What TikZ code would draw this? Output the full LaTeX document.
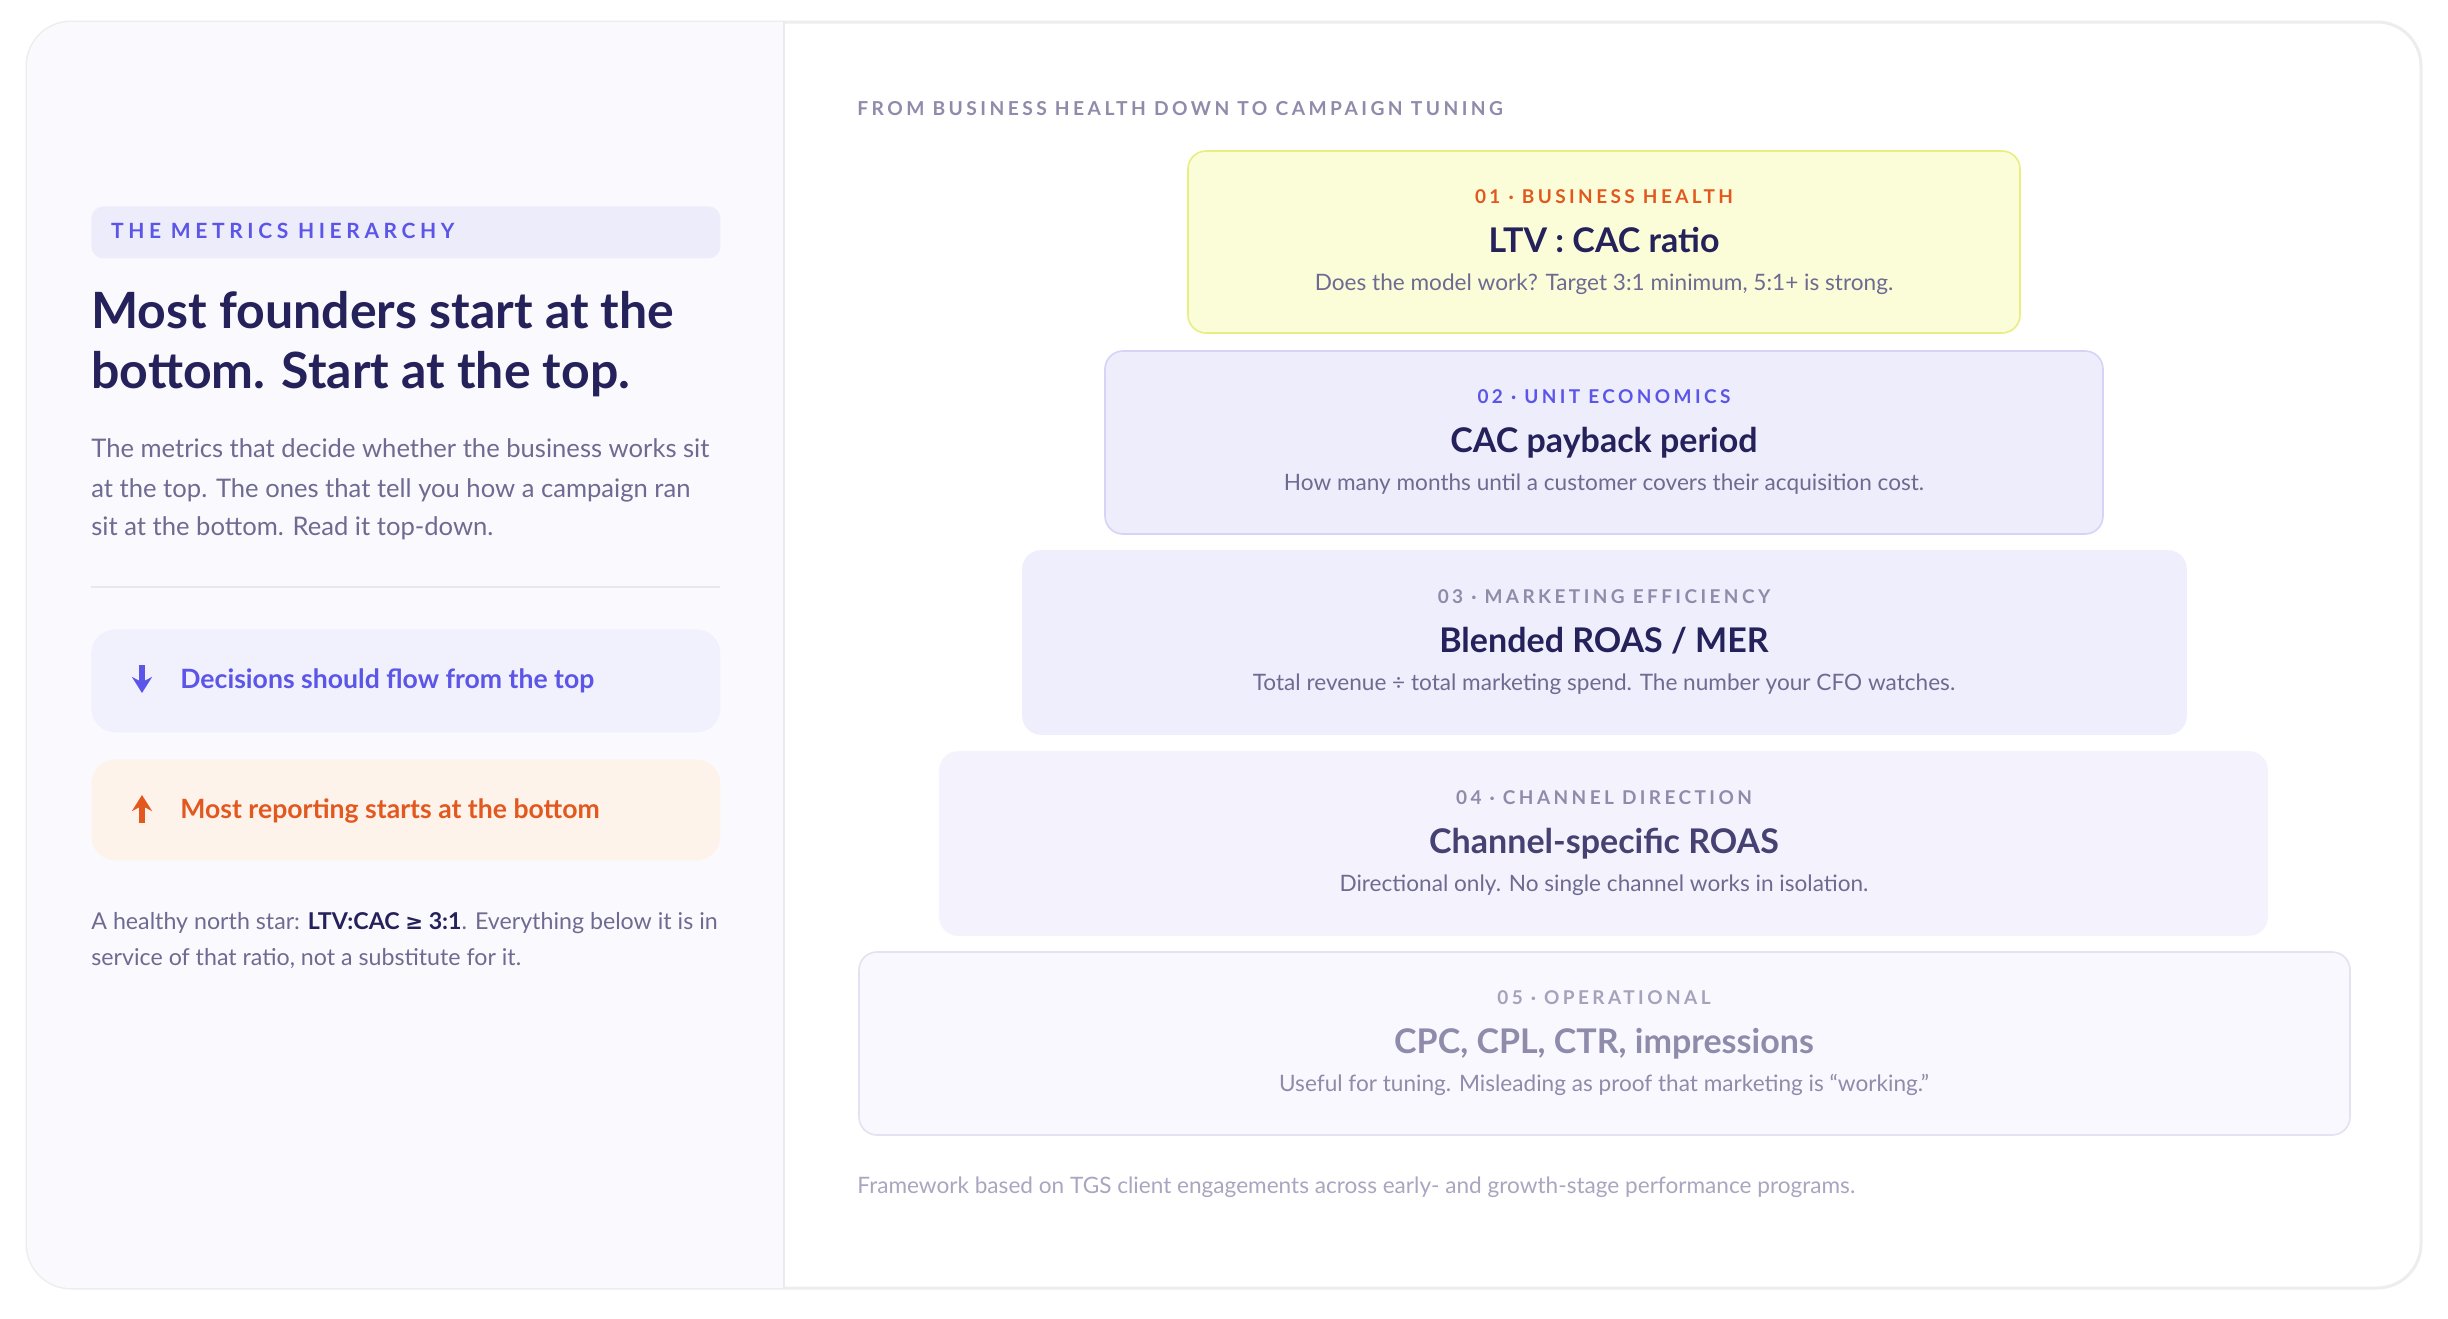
\documentclass[tikz,border=0pt]{standalone}
\usepackage{fontspec}
\setmainfont{Lato}
\newfontfamily\spaced[LetterSpace=18]{Lato}
\newfontfamily\spacedw[LetterSpace=22]{Lato}
\newfontfamily\djsym{DejaVu Sans}
\usetikzlibrary{arrows.meta}
\definecolor{ink}{HTML}{25215A}
\definecolor{body}{HTML}{6F6A91}
\definecolor{violet}{HTML}{5B55E8}
\definecolor{orng}{HTML}{E2581E}
\definecolor{mute}{HTML}{8F8BAA}
\begin{document}
\begin{tikzpicture}[x=0.5pt,y=-0.5pt,
  tier/.style={rounded corners=9pt,line width=0.8pt},
  lab/.style={font=\spaced\bfseries\fontsize{9.5}{11}\selectfont,anchor=base},
  ttl/.style={font=\bfseries\fontsize{17}{20}\selectfont,anchor=base},
  dsc/.style={font=\fontsize{11.3}{14}\selectfont,anchor=base},
  ]
\useasboundingbox (0,0) rectangle (2448,1318);
\fill[white] (0,0) rectangle (2448,1318);
% card
\draw[draw=black!7,line width=1.5pt,fill=white,rounded corners=22pt] (27,22) rectangle (2421,1288);
\begin{scope}
\clip[rounded corners=22pt] (27,22) rectangle (2421,1288);
\fill[fill={rgb,255:red,250;green,250;blue,254}] (27,22) rectangle (784,1288);
\end{scope}
\draw[black!8,line width=0.8pt] (784,22) -- (784,1288);
% left panel
\node[draw=none,fill={rgb,255:red,237;green,236;blue,251},rounded corners=6pt,minimum width=314.5pt,minimum height=26pt,anchor=north west] (tag) at (91,206) {};
\node[font=\spacedw\bfseries\fontsize{10.5}{12}\selectfont,text=violet,anchor=west] (tagt) at (104,231) {THE METRICS HIERARCHY};
\node[font=\bfseries\fontsize{25}{30}\selectfont,text=ink,anchor=base west,inner sep=0] (h1) at (91,328) {Most founders start at the};
\node[font=\bfseries\fontsize{25}{30}\selectfont,text=ink,anchor=base west,inner sep=0] (h2) at (91,388) {bottom. Start at the top.};
\foreach \t/\y [count=\i] in {The metrics that decide whether the business works sit/457,at the top. The ones that tell you how a campaign ran/497,sit at the bottom. Read it top-down./535}
  \node[font=\fontsize{12.8}{15}\selectfont,text=body,anchor=base west,inner sep=0] (p\i) at (91,\y) {\t};
\draw[black!9,line width=1pt] (91,587) -- (720,587);
\node[fill={rgb,255:red,241;green,240;blue,253},rounded corners=12pt,minimum width=314.5pt,minimum height=51.5pt,anchor=north west] (b1) at (91,629) {};
\node[fill={rgb,255:red,254;green,243;blue,235},rounded corners=12pt,minimum width=314.5pt,minimum height=50.5pt,anchor=north west] (b2) at (91,759) {};
\coordinate (a1s) at (142,665); \coordinate (a1e) at (142,693);
\draw[violet,line width=2.6pt,-{Stealth[length=8pt,width=10pt]}] (a1s) -- (a1e);
\coordinate (a2s) at (142,823); \coordinate (a2e) at (142,795);
\draw[orng,line width=2.6pt,-{Stealth[length=8pt,width=10pt]}] (a2s) -- (a2e);
\node[font=\bfseries\fontsize{13.3}{16}\selectfont,text=violet,anchor=base west,inner sep=0] (b1t) at (180,688) {Decisions should flow from the top};
\node[font=\bfseries\fontsize{13.3}{16}\selectfont,text=orng,anchor=base west,inner sep=0] (b2t) at (180,818) {Most reporting starts at the bottom};
\node[font=\fontsize{11.6}{15}\selectfont,text=body,anchor=base west,inner sep=0] (f1) at (91,929) {A healthy north star: \textcolor{ink}{\bfseries LTV:CAC {\djsym\fontsize{10.6}{12}\selectfont ≥} 3:1}. Everything below it is in};
\node[font=\fontsize{11.6}{15}\selectfont,text=body,anchor=base west,inner sep=0] (f2) at (91,965) {service of that ratio, not a substitute for it.};
% right panel
\node[font=\spaced\bfseries\fontsize{9.6}{11}\selectfont,text=mute,anchor=base west,inner sep=0] (hdr) at (857,115) {FROM BUSINESS HEALTH DOWN TO CAMPAIGN TUNING};
\draw[tier,fill={rgb,255:red,251;green,253;blue,217},draw={rgb,255:red,232;green,238;blue,128}] (1188,151) rectangle (2020,333);
\draw[tier,fill={rgb,255:red,238;green,237;blue,252},draw={rgb,255:red,214;green,211;blue,247}] (1105,351) rectangle (2103,534);
\draw[tier,fill={rgb,255:red,239;green,238;blue,252},draw={rgb,255:red,239;green,238;blue,252}] (1023,551) rectangle (2186,734);
\draw[tier,fill={rgb,255:red,244;green,243;blue,253},draw={rgb,255:red,244;green,243;blue,253}] (940,752) rectangle (2267,935);
\draw[tier,fill={rgb,255:red,248;green,248;blue,254},draw={rgb,255:red,227;green,226;blue,240}] (859,952) rectangle (2350,1135);
\def\cx{1604}
\foreach \top/\l/\t/\d/\lc/\tc/\dc [count=\i] in {
 151/01 · BUSINESS HEALTH/LTV : CAC ratio/{Does the model work? Target 3:1 minimum, 5:1+ is strong.}/orng/ink/body,
 351/02 · UNIT ECONOMICS/CAC payback period/How many months until a customer covers their acquisition cost./violet/ink/body,
 551/03 · MARKETING EFFICIENCY/{Blended ROAS / MER}/Total revenue ÷ total marketing spend. The number your CFO watches./mute/ink/body,
 752/04 · CHANNEL DIRECTION/Channel-specific ROAS/Directional only. No single channel works in isolation./mute/ink!70!mute/body,
 952/05 · OPERATIONAL/{CPC, CPL, CTR, impressions}/Useful for tuning. Misleading as proof that marketing is “working.”/mute!80!white/mute/mute}{
  \node[lab,text=\lc] (l\i) at (\cx,\top+52) {\l};
  \node[ttl,text=\tc] (t\i) at (\cx,\top+101) {\t};
  \node[dsc,text=\dc] (d\i) at (\cx,\top+139) {\d};
}
\node[font=\fontsize{11.3}{14}\selectfont,text={rgb,255:red,169;green,166;blue,192},anchor=base west,inner sep=0] (foot) at (857,1193) {Framework based on TGS client engagements across early- and growth-stage performance programs.};
\end{tikzpicture}
\end{document}
